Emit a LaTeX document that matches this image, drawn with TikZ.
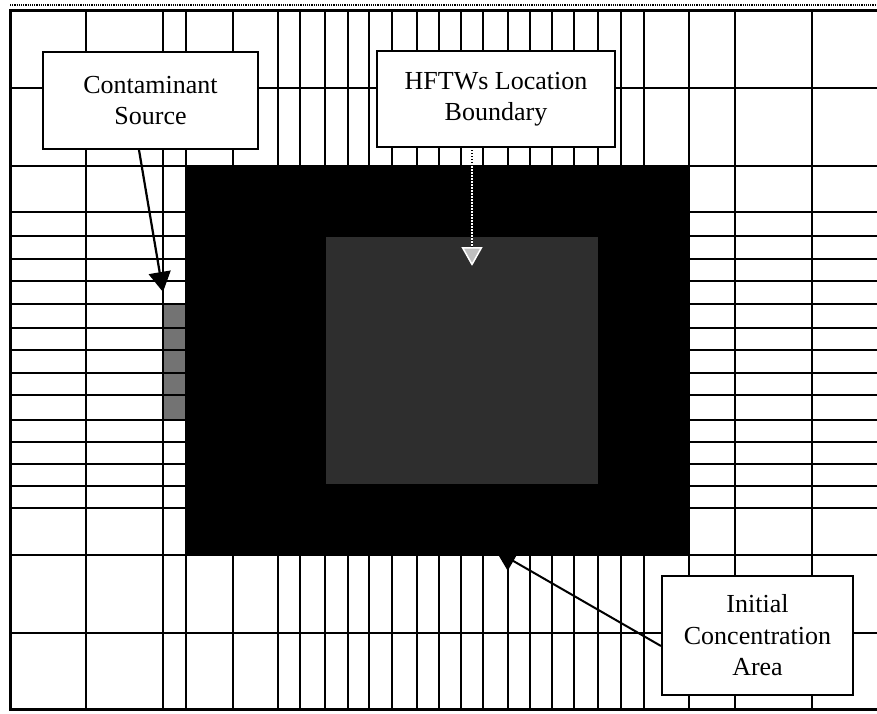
\documentclass[tikz,border=0pt]{standalone}
\usepackage{fontspec}
\setmainfont{Liberation Serif}
\usetikzlibrary{arrows.meta}

\begin{document}
\begin{tikzpicture}[
  x=1pt, y=-1pt,
  cell/.style={draw=black, line width=1.3pt},
  callout/.style={draw=black, fill=white, line width=2pt, align=center, inner sep=2pt,
    font=\fontsize{26}{31.5}\selectfont},
  pointer/.style={draw=black, line width=2.2pt, -{Triangle[width=22pt,length=20pt]}},
  >=latex
]
  \useasboundingbox (0,0) rectangle (877,713);
  \fill[white] (0,0) rectangle (877,713);

  % Model grid
  \foreach \gx in {86,163,186,233,278,300,325,348,369,392,417,439,461,483,508,530,552,574,598,621,644,689,735,812}
    \draw[cell] (\gx,10) -- (\gx,709);
  \foreach \gy in {88,166,212,236,259,281,304,328,350,373,395,420,442,464,486,508,555,633}
    \draw[cell] (10,\gy) -- (877,\gy);

  % Initial concentration area
  \fill[black] (186,166) rectangle (689,555);

  % HFTWs location boundary
  \fill[black!82] (326,237) rectangle (598,484);

  % Contaminant source cells
  \foreach \ya/\yb in {304/328,328/350,350/373,373/395,395/420}
    \filldraw[cell, fill=black!55] (163,\ya) rectangle (186,\yb);

  % Frame
  \draw[black, line width=1.2pt, densely dotted] (10,5) -- (877,5);
  \draw[black, line width=3pt] (877,10) -- (10,10) -- (10,709) -- (877,709);

  % Labels
  \node[callout, minimum width=215pt, minimum height=97pt] (cs) at (150.5,100.5) {Contaminant\\Source};
  \node[callout, minimum width=238pt, minimum height=96pt] (hb) at (496,99) {HFTWs Location\\Boundary};
  \node[callout, minimum width=191pt, minimum height=119pt] (ic) at (757.5,635.5) {Initial\\Concentration\\Area};

  % Pointer tips
  \coordinate (cs tip) at (163,292);
  \coordinate (hb tip) at (472,266);
  \coordinate (ic tip) at (496,551);

  % Pointers
  \draw[pointer] ([xshift=-11.5pt]cs.south) -- (cs tip);
  \draw[black, line width=1.5pt] ([xshift=-24pt]hb.south) -- (hb tip);
  \draw[white, line width=1.5pt, dash pattern=on 1.5pt off 1.5pt,
    -{Triangle[width=21pt,length=19pt,fill=black!25]}] ([xshift=-24pt]hb.south) -- (hb tip);
  \draw[pointer, line width=2pt] ([yshift=-10.5pt]ic.west) -- (ic tip);

\end{tikzpicture}
\end{document}
